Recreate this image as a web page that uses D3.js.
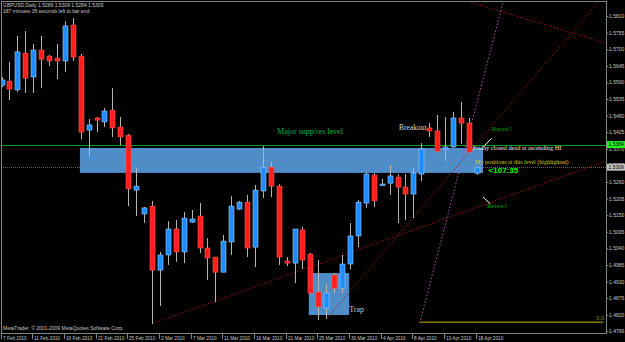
<!DOCTYPE html>
<html><head><meta charset="utf-8">
<script src="https://cdn.jsdelivr.net/npm/d3@7"></script>
<style>html,body{margin:0;padding:0;background:#000;overflow:hidden}</style>
</head><body><svg id="c" width="625" height="342"></svg>
<script>
// ---- data ----
const dateLabels = ["7 Feb 2010","11 Feb 2010","16 Feb 2010","21 Feb 2010","25 Feb 2010","2 Mar 2010","7 Mar 2010","11 Mar 2010","16 Mar 2010","21 Mar 2010","25 Mar 2010","30 Mar 2010","4 Apr 2010","8 Apr 2010","13 Apr 2010","18 Apr 2010"];
const dateLabelBars = [0,4,8,12,16,20,24,28,32,36,40,44,48,52,56,60];
const opens  = [1.5581,1.5594,1.5565,1.5687,1.5608,1.5697,1.5677,1.5670,1.5661,1.5780,1.5677,1.5432,1.5472,1.5459,1.5498,1.5442,1.5415,1.5233,1.5154,1.5180,1.4968,1.5018,1.5104,1.5028,1.5127,1.5147,1.5041,1.5011,1.4961,1.5061,1.5170,1.5193,1.5044,1.5230,1.5309,1.5246,1.4998,1.4991,1.5101,1.5021,1.4895,1.4842,1.4951,1.4908,1.4988,1.5081,1.5190,1.5283,1.5250,1.5256,1.5276,1.5243,1.5220,1.5286,1.5439,1.5429,1.5369,1.5376,1.5472,1.5455,1.5289];
const highs  = [1.5608,1.5658,1.5744,1.5760,1.5717,1.5744,1.5681,1.5717,1.5793,1.5803,1.5684,1.5469,1.5475,1.5505,1.5571,1.5475,1.5419,1.5306,1.5177,1.5197,1.5028,1.5130,1.5134,1.5160,1.5167,1.5190,1.5074,1.5011,1.5084,1.5213,1.5197,1.5217,1.5250,1.5379,1.5326,1.5253,1.5011,1.5104,1.5111,1.5024,1.5001,1.4922,1.4958,1.5018,1.5124,1.5200,1.5293,1.5290,1.5270,1.5316,1.5286,1.5286,1.5306,1.5389,1.5455,1.5482,1.5475,1.5492,1.5525,1.5472,1.5309];
const lows   = [1.5575,1.5532,1.5558,1.5555,1.5555,1.5571,1.5644,1.5601,1.5624,1.5661,1.5402,1.5343,1.5425,1.5442,1.5409,1.5382,1.5180,1.5147,1.5124,1.4789,1.4849,1.4985,1.4995,1.4991,1.5124,1.5024,1.4935,1.4862,1.4961,1.5018,1.5167,1.5011,1.4978,1.5207,1.5210,1.4985,1.4981,1.4925,1.4971,1.4888,1.4802,1.4806,1.4892,1.4892,1.4971,1.5044,1.5174,1.5177,1.5250,1.5217,1.5124,1.5134,1.5140,1.5263,1.5409,1.5356,1.5329,1.5372,1.5386,1.5356,1.5284];
const closes = [1.5598,1.5568,1.5691,1.5604,1.5697,1.5667,1.5661,1.5661,1.5777,1.5674,1.5425,1.5449,1.5465,1.5495,1.5439,1.5409,1.5237,1.5246,1.5174,1.4968,1.5018,1.5104,1.5028,1.5140,1.5137,1.5041,1.5008,1.4961,1.5064,1.5180,1.5193,1.5041,1.5233,1.5309,1.5246,1.5011,1.4991,1.5104,1.5001,1.4892,1.4846,1.4892,1.4908,1.4988,1.5081,1.5193,1.5286,1.5197,1.5253,1.5280,1.5243,1.5220,1.5290,1.5369,1.5429,1.5362,1.5376,1.5472,1.5455,1.5359,1.5309];
const priceTicks = [1.5810,1.5755,1.5700,1.5645,1.5590,1.5535,1.5480,1.5425,1.5370,1.5315,1.5260,1.5205,1.5150,1.5095,1.5040,1.4985,1.4930,1.4875,1.4820,1.4766];
const levelPrice = 1.5384;   // green horizontal level
const bidPrice = 1.5309;     // current price
const zoneBars = [9.9, 60.8], zonePrices = [1.53725, 1.5290];
const trapBars = [38.8, 43.9], trapPrices = [1.4958, 1.4819];
// trendlines: [bar1, price1, bar2, price2]
const redLines = [[19.0,1.4790,76.3,1.5329],[41.0,1.4806,75.6,1.5863],[58.3,1.5863,76.3,1.5720]];
const purpleLine = [52.8,1.4792,63.4,1.5863];
const fiboBase = [52.8, 76.0, 1.4795];
const header1 = "GBPUSD,Daily  1.5289 1.5309 1.5284 1.5309";
const header2 = "187 minutes 35 seconds left to bar end";
const footer = "MetaTrader, \u00a9 2001-2009 MetaQuotes Software Corp.";

// ---- drawing ----
const svg = d3.select("#c");
const W = 625, H = 342;
const plot = {l:1, t:1, r:606, b:333};
const x = d3.scaleLinear().domain([0,60]).range([1.5, 476.7]);
const y = d3.scaleLinear().domain([1.5810, 1.4766]).range([16, 331]);

svg.append("rect").attr("width",W).attr("height",H).attr("fill","#000");
svg.append("defs").append("clipPath").attr("id","clip").append("rect")
  .attr("x",plot.l).attr("y",plot.t).attr("width",plot.r-plot.l).attr("height",plot.b-plot.t);
const g = svg.append("g").attr("clip-path","url(#clip)");

const zoneColor = "#4f8dc8";
g.append("rect").attr("x",x(zoneBars[0])).attr("y",y(zonePrices[0]))
  .attr("width",x(zoneBars[1])-x(zoneBars[0])).attr("height",y(zonePrices[1])-y(zonePrices[0]))
  .attr("fill",zoneColor);
g.append("rect").attr("x",x(trapBars[0])).attr("y",y(trapPrices[0]))
  .attr("width",x(trapBars[1])-x(trapBars[0])).attr("height",y(trapPrices[1])-y(trapPrices[0]))
  .attr("fill",zoneColor);

// horizontal lines
g.append("line").attr("x1",plot.l).attr("x2",plot.r).attr("y1",Math.round(y(levelPrice))+0.5).attr("y2",Math.round(y(levelPrice))+0.5)
  .attr("stroke","#00a000").attr("stroke-width",1);
g.append("line").attr("x1",plot.l).attr("x2",plot.r).attr("y1",Math.round(y(bidPrice))+0.5).attr("y2",Math.round(y(bidPrice))+0.5)
  .attr("stroke","#8a8a8a").attr("stroke-width",1).attr("stroke-dasharray","1,1").attr("opacity",0.7);

// fibo base line
g.append("line").attr("x1",x(fiboBase[0])).attr("x2",x(fiboBase[1])).attr("y1",y(fiboBase[2])).attr("y2",y(fiboBase[2]))
  .attr("stroke","#857800").attr("stroke-width",1.6);
g.append("text").attr("x",plot.r-2).attr("y",y(fiboBase[2])-2).attr("text-anchor","end")
  .attr("fill","#a09000").attr("font-family","Liberation Sans, Arial").attr("font-size",5.5).text("0.0");

// trendlines
redLines.forEach(l=>{
  g.append("line").attr("x1",x(l[0])).attr("y1",y(l[1])).attr("x2",x(l[2])).attr("y2",y(l[3]))
   .attr("stroke","#a01010").attr("stroke-width",1).attr("stroke-dasharray","1.5,2");
});
g.append("line").attr("x1",x(purpleLine[0])).attr("y1",y(purpleLine[1])).attr("x2",x(purpleLine[2])).attr("y2",y(purpleLine[3]))
  .attr("stroke","#b050b0").attr("stroke-width",1).attr("stroke-dasharray","1.5,2");

// candles
const bars = d3.range(opens.length).map(i=>({i,o:opens[i],h:highs[i],l:lows[i],c:closes[i]}));
const cg = g.append("g");
cg.selectAll("line.w").data(bars).join("line").attr("class","w")
  .attr("x1",d=>Math.round(x(d.i))+0.5).attr("x2",d=>Math.round(x(d.i))+0.5)
  .attr("y1",d=>y(d.h)).attr("y2",d=>y(d.l))
  .attr("stroke","#b4b4b4").attr("stroke-width",1);
cg.selectAll("rect.b").data(bars).join("rect").attr("class","b")
  .attr("x",d=>Math.round(x(d.i))-2)
  .attr("y",d=>y(Math.max(d.o,d.c)))
  .attr("width",5)
  .attr("height",d=>Math.max(1.5, Math.abs(y(d.o)-y(d.c))))
  .attr("fill",d=>d.c>=d.o?"#1e8cff":"#ff1e1e")
  .attr("stroke",d=>d.c>=d.o?"#9ccaff":"#ff5050").attr("stroke-width",0.6);

// annotations
const serif = "Liberation Serif, Times New Roman, serif";
const sans = "Liberation Sans, Arial, sans-serif";
function note(bar, price, txt, color, size, family, weight){
  g.append("text").attr("x",x(bar)).attr("y",y(price)).attr("fill",color)
   .attr("font-family",family||serif).attr("font-size",size).attr("font-weight",weight||"normal").text(txt);
}
note(34.8, 1.5420, "Major supp/res level", "#00b050", 8);
note(50.2, 1.5432, "Breakout", "#d8d8d8", 7.5);
note(59.5, 1.5366, "Friday closed dead at ascending HI", "#e8e8e8", 6.3);
note(59.8, 1.5319, "My positions at this level (highlighted)", "#d0d000", 6);
note(61.5, 1.5290, "<107:35", "#00ff00", 8, sans, "bold");
note(61.9, 1.5428, "Retest?", "#00a000", 6.8);
note(61.3, 1.5174, "Retest?", "#00a000", 6.8);
note(43.9, 1.4830, "Trap", "#c8c8c8", 8);
// white pointer strokes
g.append("line").attr("x1",x(60.8)).attr("y1",y(1.5375)).attr("x2",x(61.9)).attr("y2",y(1.5405)).attr("stroke","#fff").attr("stroke-width",1);
g.append("line").attr("x1",x(60.8)).attr("y1",y(1.5210)).attr("x2",x(61.7)).attr("y2",y(1.5188)).attr("stroke","#fff").attr("stroke-width",1);

// header / footer
svg.append("text").attr("x",3).attr("y",7).attr("fill","#c8c8c8").attr("font-family",sans).attr("font-size",5).text(header1);
svg.append("text").attr("x",3).attr("y",12.5).attr("fill","#c8c8c8").attr("font-family",sans).attr("font-size",5).text(header2);
svg.append("text").attr("x",3).attr("y",330).attr("fill","#c8c8c8").attr("font-family",sans).attr("font-size",5).text(footer);

// frame
const frameColor = "#7b8b7b";
svg.append("rect").attr("x",plot.l+0.5).attr("y",plot.t+0.5).attr("width",plot.r-plot.l).attr("height",plot.b-plot.t)
  .attr("fill","none").attr("stroke",frameColor);

// right axis
const yAxis = d3.axisRight(y).tickValues(priceTicks).tickSize(2).tickFormat(d3.format(".4f"));
const ya = svg.append("g").attr("transform",`translate(${plot.r+0.5},0)`).call(yAxis);
ya.select(".domain").remove();
ya.selectAll("line").attr("stroke",frameColor);
ya.selectAll("text").attr("fill","#c8c8c8").attr("font-family",sans).attr("font-size",5).attr("x",2.5);

// price boxes
function priceBox(p, bg, fg){
  const yy = y(p);
  svg.append("rect").attr("x",plot.r+1).attr("y",yy-3.5).attr("width",18).attr("height",7).attr("fill",bg);
  svg.append("text").attr("x",plot.r+2.5).attr("y",yy+1.8).attr("fill",fg).attr("font-family",sans).attr("font-size",5).text(d3.format(".4f")(p));
}
priceBox(levelPrice, "#22ee22", "#000");
priceBox(bidPrice, "#c0c0c0", "#000");

// bottom date axis
const xa = svg.append("g");
dateLabelBars.forEach((b,k)=>{
  const xx = Math.round(x(b))-0.5;
  xa.append("line").attr("x1",xx).attr("x2",xx).attr("y1",plot.b+1).attr("y2",plot.b+6).attr("stroke",frameColor);
  xa.append("text").attr("x",xx+1.5).attr("y",339.5).attr("fill","#c8c8c8").attr("font-family",sans).attr("font-size",4.7).text(dateLabels[k]);
});
</script></body></html>
